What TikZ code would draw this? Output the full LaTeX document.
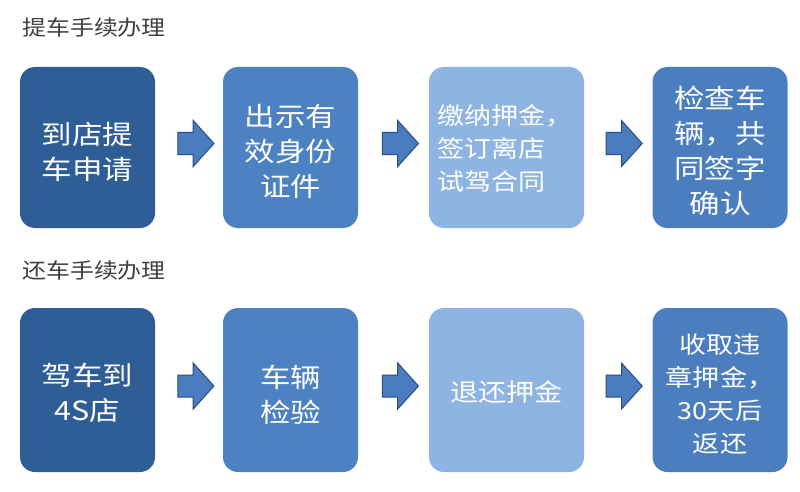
\documentclass[tikz,border=0pt]{standalone}
\usepackage{fontspec}
\newfontfamily\cjk{Noto Sans CJK SC}
\usetikzlibrary{shapes.arrows,calc}
\definecolor{cA}{HTML}{2F5E97}
\definecolor{cB}{HTML}{4C81C2}
\definecolor{cC}{HTML}{8DB4E2}
\definecolor{cD}{HTML}{4B7EBE}
\definecolor{arrfill}{HTML}{4A7CC0}
\definecolor{arrdraw}{HTML}{2C4F7A}
\definecolor{titlec}{HTML}{404040}
\tikzset{
  box/.style={rounded corners=15pt, minimum width=135pt, minimum height=161pt, inner sep=0pt},
  boxtext/.style={text=white, align=center, xscale=1.15, transform shape, inner sep=0pt},
  big/.style={font=\cjk\fontsize{26.5}{35}\selectfont},
  small/.style={font=\cjk\fontsize{23.5}{33}\selectfont},
  title/.style={text=titlec, font=\cjk\fontsize{21}{24}\selectfont, xscale=1.14, transform shape, anchor=west, inner sep=0pt},
  blockarrow/.style={single arrow, fill=arrfill, draw=arrdraw, line width=1pt,
    minimum height=36pt, minimum width=45pt, inner xsep=0pt, inner ysep=10.5pt,
    single arrow head extend=12pt, single arrow tip angle=96}
}
\begin{document}
\begin{tikzpicture}[x=1pt,y=-1pt]
\useasboundingbox (0,0) rectangle (800,492);
\fill[white] (0,0) rectangle (800,492);
% titles
\node[title] (t1) at (22,28) {提车手续办理};
\node[title] (t2) at (22,271) {还车手续办理};
% row 1 boxes
\node[box, fill=cA] (a1) at (87.5,147.5) {};
\node[box, fill=cB] (a2) at (290.5,147.5) {};
\node[box, fill=cC, minimum width=155pt] (a3) at (506.5,147.5) {};
\node[box, fill=cD] (a4) at (720,147.5) {};
\node[boxtext, big] (ta1) at ($(a1.center)+(0,4)$) {到店提\\车申请};
\node[boxtext, big] (ta2) at ($(a2.center)+(0,4)$) {出示有\\效身份\\证件};
\node[boxtext, small, align=left, anchor=west] (ta3) at ($(a3.west)+(8,1)$) {缴纳押金，\\签订离店\\试驾合同};
\node[boxtext, big] (ta4) at ($(a4.center)+(0,3)$) {检查车\\辆，共\\同签字\\确认};
% row 2 boxes
\node[box, fill=cA, minimum height=164pt] (b1) at (87.5,390) {};
\node[box, fill=cB, minimum height=164pt] (b2) at (290.5,390) {};
\node[box, fill=cC, minimum width=155pt, minimum height=164pt] (b3) at (506.5,390) {};
\node[box, fill=cD, minimum height=164pt] (b4) at (720,390) {};
\node[boxtext, big] (tb1) at ($(b1.center)+(0,3)$) {驾车到\\4S店};
\node[boxtext, big] (tb2) at ($(b2.center)+(0,5)$) {车辆\\检验};
\node[boxtext, font=\cjk\fontsize{24.5}{30}\selectfont] (tb3) at ($(b3.center)+(0,2)$) {退还押金};
\node[boxtext, small] (tb4) at ($(b4.center)+(0,4)$) {收取违\\章押金，\\30天后\\返还};
% arrows
\node[blockarrow] (p1) at ($(a1.east)!0.5!(a2.west)+(2,-4)$) {};
\node[blockarrow] (p2) at ($(a2.east)!0.5!(a3.west)+(2,-4)$) {};
\node[blockarrow] (p3) at ($(a3.east)!0.5!(a4.west)+(1,-4)$) {};
\node[blockarrow] (q1) at ($(b1.east)!0.5!(b2.west)+(2,-4)$) {};
\node[blockarrow] (q2) at ($(b2.east)!0.5!(b3.west)+(2,-4)$) {};
\node[blockarrow] (q3) at ($(b3.east)!0.5!(b4.west)+(1,-4)$) {};
\end{tikzpicture}
\end{document}
